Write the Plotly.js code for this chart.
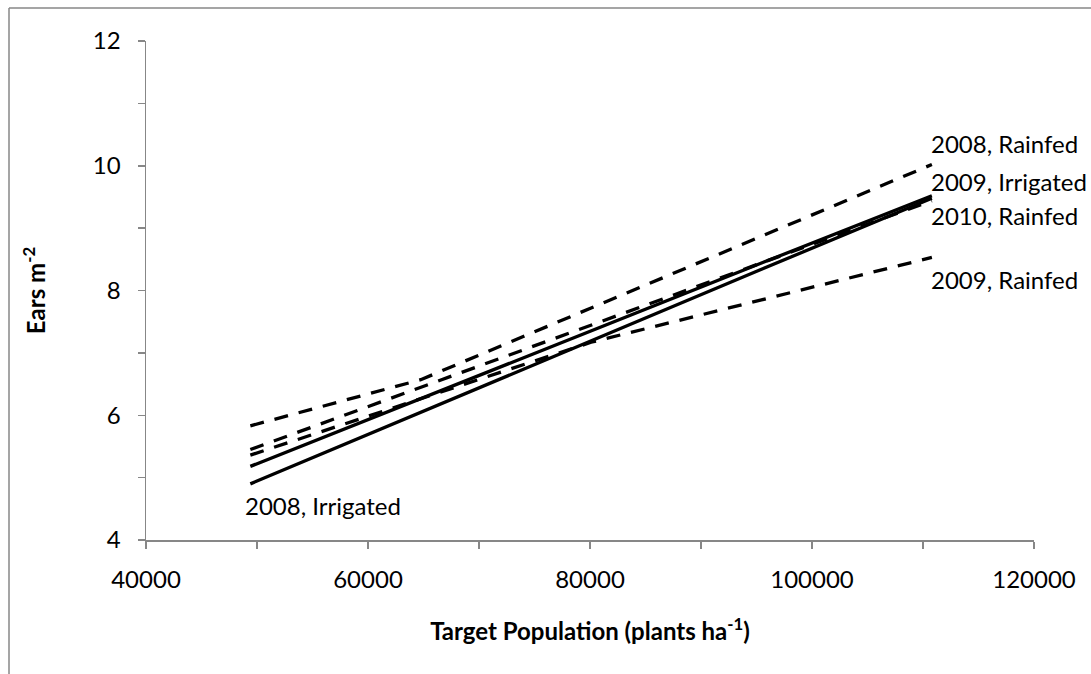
<!DOCTYPE html>
<html>
<head>
<meta charset="utf-8">
<script src="https://cdn.plot.ly/plotly-3.0.1.min.js"></script>
<style>
  html, body { margin: 0; padding: 0; background: #ffffff; }
  #chart { width: 1091px; height: 674px; }
</style>
</head>
<body>
<div id="chart"></div>
<script>
// Target plant population (plants per hectare)
const populations = [49400, 64750, 80100, 95450, 110800];

// Ears per square metre for each site-year
const rainfed2008   = [5.83, 6.57, 7.72, 8.87, 10.02];
const irrigated2009 = [5.18, 6.27, 7.35, 8.44, 9.52];
const rainfed2010   = [5.45, 6.45, 7.45, 8.44, 9.44];
const rainfed2009   = [5.36, 6.26, 7.17, 7.85, 8.53];
const irrigated2008 = [4.90, 6.05, 7.19, 8.34, 9.48];

const seriesNames = ['2008, Rainfed', '2009, Irrigated', '2010, Rainfed', '2009, Rainfed', '2008, Irrigated'];
const seriesValues = [rainfed2008, irrigated2009, rainfed2010, rainfed2009, irrigated2008];
const seriesDashed = [true, false, true, true, false];

// Labelled ticks; unlabelled minor ticks fall halfway between them
const xTickVals = [40000, 60000, 80000, 100000, 120000];
const xTickText = ['40000', '60000', '80000', '100000', '120000'];
const yTickVals = [4, 6, 8, 10, 12];
const yTickText = ['4', '6', '8', '10', '12'];

// Where each series label sits (data coordinates)
const labelX = [110500, 110500, 110500, 110500, 48700];
const labelY = [10.36, 9.75, 9.21, 8.17, 4.55];

const FONT = 'Lato, "Open Sans", "DejaVu Sans", sans-serif';
const FONT_SIZE = 24;
const AXIS_GREY = '#878787';

const traces = seriesValues.map((vals, i) => ({
  type: 'scatter',
  mode: 'lines',
  name: seriesNames[i],
  x: populations,
  y: vals,
  line: { color: '#000000', width: 3.3, dash: seriesDashed[i] ? '14px,11px' : 'solid' },
  hoverinfo: 'x+y+name'
}));

const annotations = seriesNames.map((name, i) => ({
  x: labelX[i], y: labelY[i], xref: 'x', yref: 'y',
  text: name, showarrow: false,
  xanchor: 'left', yanchor: 'middle',
  font: { family: FONT, size: FONT_SIZE, color: '#000000' }
}));

const W = 1091, H = 674;
const margin = { l: 146, r: 57, t: 41, b: 134 };
const plotW = W - margin.l - margin.r;
const plotH = H - margin.t - margin.b;
// chart-area frame (left and top edges) expressed in paper units
const px2paperX = px => (px - margin.l) / plotW;
const py2paperY = py => (H - margin.b - py) / plotH;

const tickStyle = { ticks: 'outside', ticklen: 7, tickwidth: 1.5, tickcolor: AXIS_GREY };

const layout = {
  width: W, height: H,
  margin: margin,
  paper_bgcolor: '#ffffff',
  plot_bgcolor: '#ffffff',
  showlegend: false,
  font: { family: FONT, size: FONT_SIZE, color: '#000000' },
  xaxis: Object.assign({
    range: [40000, 120000],
    tickmode: 'array', tickvals: xTickVals, ticktext: xTickText,
    minor: Object.assign({ tickmode: 'linear', tick0: 40000, dtick: 10000 }, tickStyle),
    showline: true, linecolor: AXIS_GREY, linewidth: 1.5,
    showgrid: false, zeroline: false,
    ticklabelstandoff: 11,
    tickfont: { family: FONT, size: FONT_SIZE, color: '#000000' },
    title: {
      text: '<b>Target Population (plants ha<sup>-1</sup>)</b>',
      font: { family: FONT, size: FONT_SIZE, color: '#000000' },
      standoff: 31
    },
    automargin: false
  }, tickStyle),
  yaxis: Object.assign({
    range: [4, 12],
    tickmode: 'array', tickvals: yTickVals, ticktext: yTickText,
    minor: Object.assign({ tickmode: 'linear', tick0: 4, dtick: 1 }, tickStyle),
    showline: true, linecolor: AXIS_GREY, linewidth: 1.5,
    showgrid: false, zeroline: false,
    ticklabelstandoff: 12,
    tickfont: { family: FONT, size: FONT_SIZE, color: '#000000' },
    title: {
      text: '<b>Ears m<sup>-2</sup></b>',
      font: { family: FONT, size: FONT_SIZE, color: '#000000' },
      standoff: 40
    },
    automargin: false
  }, tickStyle),
  annotations: annotations,
  shapes: [
    { type: 'line', xref: 'paper', yref: 'paper',
      x0: px2paperX(9), x1: px2paperX(9), y0: py2paperY(8), y1: py2paperY(H + 5),
      line: { color: AXIS_GREY, width: 1.5 } },
    { type: 'line', xref: 'paper', yref: 'paper',
      x0: px2paperX(9), x1: px2paperX(W + 5), y0: py2paperY(8), y1: py2paperY(8),
      line: { color: AXIS_GREY, width: 1.5 } }
  ]
};

Plotly.newPlot('chart', traces, layout, { displayModeBar: false, staticPlot: true });
</script>
</body>
</html>
